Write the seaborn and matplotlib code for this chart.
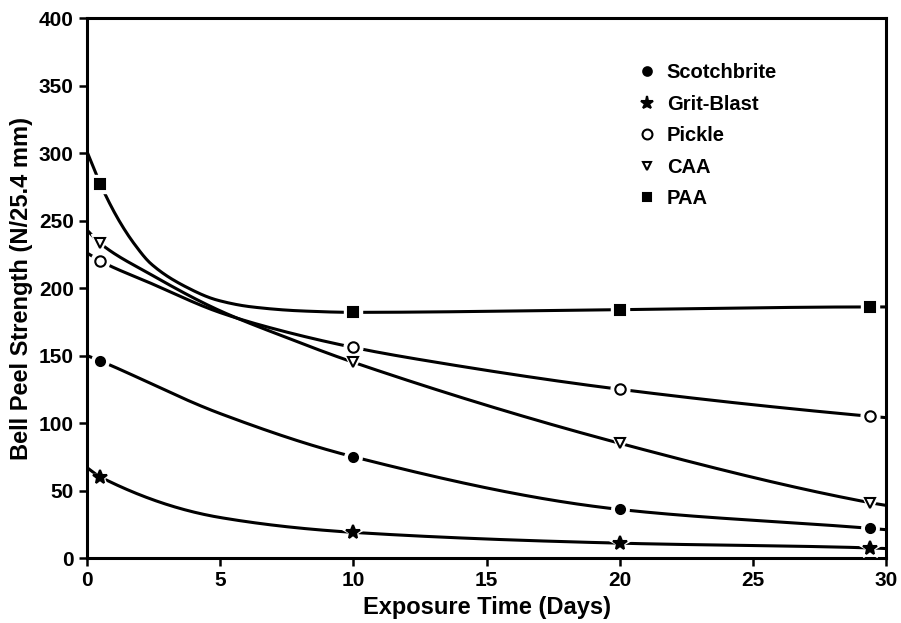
import numpy as np
import pandas as pd
import matplotlib
matplotlib.use("Agg")
import matplotlib.pyplot as plt
from matplotlib.lines import Line2D
import seaborn as sns

# ---- data ----
series = ["Scotchbrite", "Grit-Blast", "Pickle", "CAA", "PAA"]
marker_days = [0.5, 10, 20, 29.4]
scotchbrite = [146, 75, 36, 22]
grit_blast = [60, 19, 11, 7.5]
pickle = [220, 156, 125, 105]
caa = [233, 145, 85, 41]
paa = [277, 182, 184, 186]

# fitted-curve readings (x, y)
scotch_curve_x = [0, 0.5, 5, 10, 20, 29.4, 30]
scotch_curve_y = [150, 146, 107, 75, 36, 22, 21]
grit_curve_x = [0, 0.5, 5, 10, 20, 29.4, 30]
grit_curve_y = [67, 60, 30, 19, 11, 7.5, 7]
pickle_curve_x = [0, 0.5, 2.4, 4.9, 6.8, 10, 12.5, 20, 29.4, 30]
pickle_curve_y = [226, 220, 203.5, 182.5, 171, 156, 147, 125, 105, 104]
caa_curve_x = [0, 0.5, 2.4, 4.9, 7.4, 10, 20, 29.4, 30]
caa_curve_y = [243, 233, 210, 184, 164, 145, 85, 41, 39]
paa_curve_x = [0, 0.5, 1.2, 1.8, 2.4, 3.7, 4.9, 6.2, 8.1, 10, 20, 29.4, 30]
paa_curve_y = [301, 277, 250, 232, 218, 201, 191, 186, 183, 182, 184, 186, 186]

x_ticks = [0, 5, 10, 15, 20, 25, 30]
y_ticks = [0, 50, 100, 150, 200, 250, 300, 350, 400]


def pchip(x, y, xs):
    x = np.asarray(x, float); y = np.asarray(y, float)
    h = np.diff(x); d = np.diff(y) / h
    n = len(x); m = np.zeros(n)
    for k in range(1, n - 1):
        if d[k - 1] * d[k] <= 0:
            m[k] = 0.0
        else:
            w1 = 2 * h[k] + h[k - 1]; w2 = h[k] + 2 * h[k - 1]
            m[k] = (w1 + w2) / (w1 / d[k - 1] + w2 / d[k])
    m[0] = d[0]; m[-1] = d[-1]
    idx = np.clip(np.searchsorted(x, xs) - 1, 0, n - 2)
    t = (xs - x[idx]) / h[idx]
    h00 = 2 * t**3 - 3 * t**2 + 1; h10 = t**3 - 2 * t**2 + t
    h01 = -2 * t**3 + 3 * t**2; h11 = t**3 - t**2
    return h00 * y[idx] + h10 * h[idx] * m[idx] + h01 * y[idx + 1] + h11 * h[idx] * m[idx + 1]


sns.set_theme(style="ticks")
plt.rcParams["font.family"] = ["Liberation Sans", "DejaVu Sans"]
plt.rcParams["font.weight"] = "bold"
plt.rcParams["text.color"] = "black"
plt.rcParams["axes.labelcolor"] = "black"

fig = plt.figure(figsize=(9.01, 6.23), dpi=100)
ax = fig.add_axes([0.0966, 0.1043, 0.8868, 0.8667])

curves = [(scotch_curve_x, scotch_curve_y), (grit_curve_x, grit_curve_y),
          (pickle_curve_x, pickle_curve_y), (caa_curve_x, caa_curve_y),
          (paa_curve_x, paa_curve_y)]
marks = [scotchbrite, grit_blast, pickle, caa, paa]
styles = {
    "Scotchbrite": dict(marker="o", face="black", size=6.5),
    "Grit-Blast": dict(marker="*", face="black", size=10),
    "Pickle": dict(marker="o", face="white", size=7.5),
    "CAA": dict(marker="v", face="white", size=6.5),
    "PAA": dict(marker="s", face="black", size=6.5),
}

for name, (cx, cy), my in zip(series, curves, marks):
    xs = np.linspace(cx[0], cx[-1], 500)
    ys = pchip(cx, cy, xs)
    df = pd.DataFrame({"x": xs, "y": ys})
    sns.lineplot(data=df, x="x", y="y", ax=ax, color="black", lw=2.2,
                 estimator=None, sort=False, zorder=2)
    st = styles[name]
    # white halo to leave the gap around markers
    ax.plot(marker_days, my, ls="none", marker=st["marker"], ms=st["size"] + 6,
            mfc="white", mec="white", zorder=3)
    ax.plot(marker_days, my, ls="none", marker=st["marker"], ms=st["size"],
            mfc=st["face"], mec="black", mew=1.5, zorder=4)

ax.set_xlim(0, 30)
ax.set_ylim(0, 400)
ax.set_xticks(x_ticks)
ax.set_yticks(y_ticks)
ax.tick_params(direction="out", length=6, width=1.8, labelsize=15, colors="black")
for lab in ax.get_xticklabels() + ax.get_yticklabels():
    lab.set_fontweight("bold")
for sp in ax.spines.values():
    sp.set_linewidth(2.2)
    sp.set_color("black")
ax.set_xlabel("Exposure Time (Days)", fontsize=17, fontweight="bold", labelpad=4, color="black")
ax.set_ylabel("Bell Peel Strength (N/25.4 mm)", fontsize=17, fontweight="bold", labelpad=4, color="black")

handles = [Line2D([], [], ls="none", marker=styles[n]["marker"],
                  ms=styles[n]["size"] * 0.95, mfc=styles[n]["face"], mec="black", mew=1.5)
           for n in series]
leg = ax.legend(handles, series, loc="upper left", bbox_to_anchor=(0.665, 0.95),
                frameon=False, handletextpad=0.5, labelspacing=0.62,
                handlelength=1.0, prop={"weight": "bold", "size": 14.5})
for t in leg.get_texts():
    t.set_color("black")

fig.savefig("out.png", dpi=100)
